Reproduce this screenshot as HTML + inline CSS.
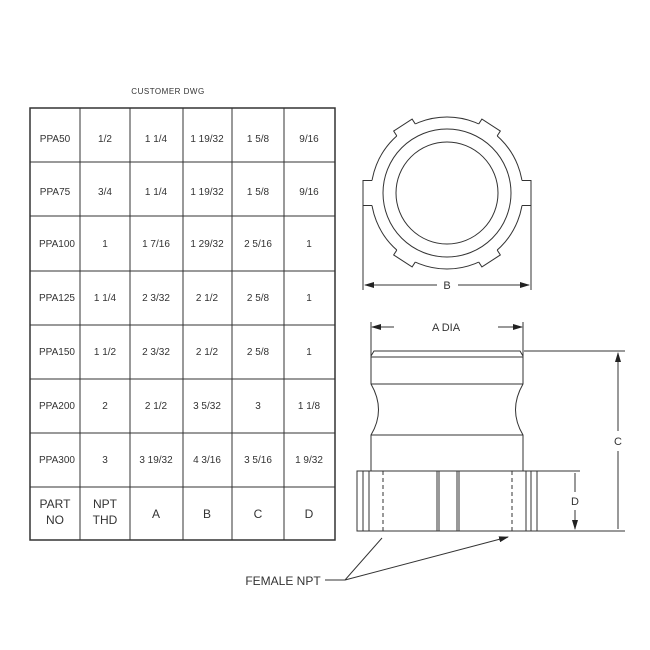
<!DOCTYPE html>
<html><head><style>
html,body{margin:0;padding:0;background:#fff}
svg{display:block}
text{font-family:"Liberation Sans",sans-serif;fill:#333}
</style></head><body>
<svg width="650" height="650" viewBox="0 0 650 650" xmlns="http://www.w3.org/2000/svg">
<defs><marker id="ar" markerWidth="10" markerHeight="6" refX="9" refY="3" orient="auto-start-reverse" markerUnits="userSpaceOnUse"><path d="M0,0 L10,3 L0,6 z" fill="#222"/></marker></defs>
<g stroke="#333" fill="none" stroke-width="1">
<text x="168" y="94" font-size="8" text-anchor="middle" stroke="none" letter-spacing="0.5">CUSTOMER DWG</text>
<rect x="30" y="108" width="305" height="432" stroke-width="1.5"/>
<path d="M80 108V540M130 108V540M183 108V540M232 108V540M284 108V540M30 162H335M30 216H335M30 271H335M30 325H335M30 379H335M30 433H335M30 487H335"/>
</g>
<g font-size="10" text-anchor="middle">
<text x="55" y="142">PPA50</text><text x="105" y="142">1/2</text><text x="156" y="142">1 1/4</text><text x="207" y="142">1 19/32</text><text x="258" y="142">1 5/8</text><text x="309" y="142">9/16</text>
<text x="55" y="195">PPA75</text><text x="105" y="195">3/4</text><text x="156" y="195">1 1/4</text><text x="207" y="195">1 19/32</text><text x="258" y="195">1 5/8</text><text x="309" y="195">9/16</text>
<text x="57" y="247">PPA100</text><text x="105" y="247">1</text><text x="156" y="247">1 7/16</text><text x="207" y="247">1 29/32</text><text x="258" y="247">2 5/16</text><text x="309" y="247">1</text>
<text x="57" y="301">PPA125</text><text x="105" y="301">1 1/4</text><text x="156" y="301">2 3/32</text><text x="207" y="301">2 1/2</text><text x="258" y="301">2 5/8</text><text x="309" y="301">1</text>
<text x="57" y="355">PPA150</text><text x="105" y="355">1 1/2</text><text x="156" y="355">2 3/32</text><text x="207" y="355">2 1/2</text><text x="258" y="355">2 5/8</text><text x="309" y="355">1</text>
<text x="57" y="409">PPA200</text><text x="105" y="409">2</text><text x="156" y="409">2 1/2</text><text x="207" y="409">3 5/32</text><text x="258" y="409">3</text><text x="309" y="409">1 1/8</text>
<text x="57" y="463">PPA300</text><text x="105" y="463">3</text><text x="156" y="463">3 19/32</text><text x="207" y="463">4 3/16</text><text x="258" y="463">3 5/16</text><text x="309" y="463">1 9/32</text>
</g>
<g font-size="12" text-anchor="middle">
<text x="55" y="508">PART</text><text x="55" y="524">NO</text>
<text x="105" y="508">NPT</text><text x="105" y="524">THD</text>
<text x="156" y="518">A</text><text x="207" y="518">B</text><text x="258" y="518">C</text><text x="309" y="518">D</text>
</g>
<g stroke="#333" fill="none" stroke-width="1">
<!-- top view -->
<circle cx="447" cy="193" r="76"/>
<circle cx="447" cy="193" r="64"/>
<circle cx="447" cy="193" r="51"/>
<g transform="rotate(-33 447 193)"><rect x="436" y="112" width="22" height="9" fill="#fff" stroke="none"/><path d="M436 117.8V112H458V117.8"/></g>
<g transform="rotate(33 447 193)"><rect x="436" y="112" width="22" height="9" fill="#fff" stroke="none"/><path d="M436 117.8V112H458V117.8"/></g>
<g transform="rotate(147 447 193)"><rect x="436" y="112" width="22" height="9" fill="#fff" stroke="none"/><path d="M436 117.8V112H458V117.8"/></g>
<g transform="rotate(213 447 193)"><rect x="436" y="112" width="22" height="9" fill="#fff" stroke="none"/><path d="M436 117.8V112H458V117.8"/></g>
<g transform="rotate(90 447 193)"><rect x="434.5" y="107" width="25" height="14" fill="#fff" stroke="none"/><path d="M434.5 118V109H459.5V118"/></g>
<g transform="rotate(-90 447 193)"><rect x="434.5" y="107" width="25" height="14" fill="#fff" stroke="none"/><path d="M434.5 118V109H459.5V118"/></g>
<path d="M363 205V290M531 205V290"/>
<path d="M365 285H437M458 285H529" marker-start="url(#ar)" marker-end="url(#ar)"/>
<!-- side view -->
<path d="M372 327H394M498 327H522" marker-start="url(#ar)" marker-end="url(#ar)"/>
<path d="M371 322V356M523 322V356"/>
<path d="M371 356 L374 351 H520 L523 356 V384 Q508 410 523 435 V471 H371 V435 Q386 410 371 384 Z"/>
<path d="M371 357H523M371 384H523M371 435H523"/>
<rect x="357" y="471" width="180" height="60"/>
<path d="M363 471V531M369 471V531M437 471V531M439 471V531M457 471V531M459 471V531M526 471V531M531 471V531"/>
<path d="M383 471V531M512 471V531" stroke-dasharray="4,3"/>
<path d="M524 351H625M537 471H580M537 531H625"/>
<path d="M618 353V431M618 451V529M575 473V492M575 510V529" marker-start="url(#ar)" marker-end="url(#ar)"/>
<path d="M325 580H345 L382 538M345 580 L508 537" marker-end="url(#ar)"/>
</g>
<g font-size="11" text-anchor="middle">
<text x="447" y="289">B</text>
<text x="446" y="331">A DIA</text>
<text x="618" y="445">C</text>
<text x="575" y="505">D</text>
<text x="283" y="585" font-size="12">FEMALE NPT</text>
</g>
</svg>
</body></html>
